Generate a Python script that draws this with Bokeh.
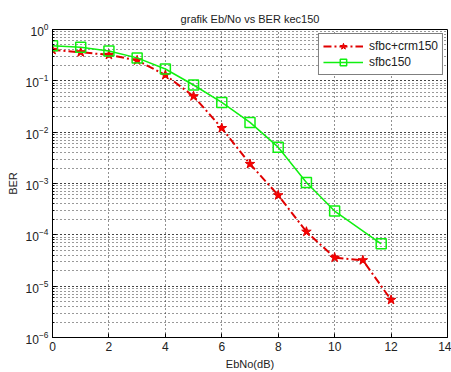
from bokeh.plotting import figure
from bokeh.models import Legend, LegendItem, Range1d, LogTicker, SingleIntervalTicker
from bokeh.embed import file_html
from bokeh.resources import INLINE

# data
ebno_crm = [0, 1, 2, 3, 4, 5, 6, 7, 8, 9, 10, 11, 12]
ber_crm = [0.40, 0.36, 0.32, 0.25, 0.13, 0.05, 0.012, 0.0024, 5.9e-4, 1.15e-4, 3.6e-5, 3.2e-5, 5.4e-6]
ebno_sfbc = [0, 1, 2, 3, 4, 5, 6, 7, 8, 9, 10, 11.65]
ber_sfbc = [0.48, 0.45, 0.38, 0.28, 0.17, 0.083, 0.038, 0.0155, 0.0051, 0.00105, 2.9e-4, 6.7e-5]
labels = ["sfbc+crm150", "sfbc150"]

FONT = "Liberation Sans"

p = figure(width=451, height=372, y_axis_type="log",
           x_range=Range1d(0, 14), y_range=Range1d(1e-6, 1),
           output_backend="svg", toolbar_location=None,
           min_border_left=52, min_border_right=4, min_border_top=29, min_border_bottom=32)

p.background_fill_color = "white"
p.border_fill_color = "white"
p.outline_line_color = "black"
p.outline_line_width = 1

p.title.text = "grafik Eb/No vs BER kec150"
p.title.text_font = FONT
p.title.text_font_size = "11px"
p.title.text_font_style = "normal"
p.title.text_color = "#222222"
p.title.align = "center"
p.title.offset = -11

p.xaxis.ticker = SingleIntervalTicker(interval=2, num_minor_ticks=0)
p.yaxis.ticker = LogTicker(num_minor_ticks=10)

for ax in [p.xaxis[0], p.yaxis[0]]:
    ax.major_label_text_font = FONT
    ax.major_label_text_font_size = "12px"
    ax.major_label_text_color = "#222222"
    ax.axis_label_text_font = FONT
    ax.axis_label_text_font_size = "11px"
    ax.axis_label_text_font_style = "normal"
    ax.axis_label_text_color = "#222222"
    ax.major_tick_in = 4
    ax.major_tick_out = 0
    ax.minor_tick_in = 2
    ax.minor_tick_out = 0
    ax.axis_line_color = "black"
    ax.major_tick_line_color = "black"
    ax.minor_tick_line_color = "black"
    ax.major_label_standoff = 4
    ax.axis_label_standoff = 4

p.xaxis.axis_label = "EbNo(dB)"
p.yaxis.axis_label = "BER"
p.xaxis.minor_tick_line_color = None

p.xgrid.grid_line_color = "#222222"
p.xgrid.grid_line_dash = "1 3"
p.ygrid.grid_line_color = "#222222"
p.ygrid.grid_line_dash = "1 3"
p.ygrid.minor_grid_line_color = "#333333"
p.ygrid.minor_grid_line_dash = "1 3"

r1l = p.line(ebno_crm, ber_crm, line_color="#e00000", line_width=2, line_dash="8 3 2 3")
r1m = p.scatter(ebno_crm, ber_crm, marker="star", size=10, fill_color="#ff0000", line_color="#e00000")
r2l = p.line(ebno_sfbc, ber_sfbc, line_color="#10f010", line_width=1.5)
r2m = p.scatter(ebno_sfbc, ber_sfbc, marker="square", size=10, fill_color=None, line_color="#10f010", line_width=1.5)

legend = Legend(items=[LegendItem(label=labels[0], renderers=[r1l, r1m]),
                       LegendItem(label=labels[1], renderers=[r2l, r2m])],
                location="top_right")
legend.margin = 4
legend.padding = 4
legend.spacing = 0
legend.label_height = 16
legend.glyph_height = 16
legend.glyph_width = 40
legend.label_standoff = 6
legend.label_text_font = FONT
legend.label_text_font_size = "12px"
legend.label_text_color = "#222222"
legend.border_line_color = "black"
legend.border_line_width = 1
legend.background_fill_color = "white"
legend.background_fill_alpha = 1
p.add_layout(legend, "center")

open("out.html", "w").write(file_html(p, INLINE))
